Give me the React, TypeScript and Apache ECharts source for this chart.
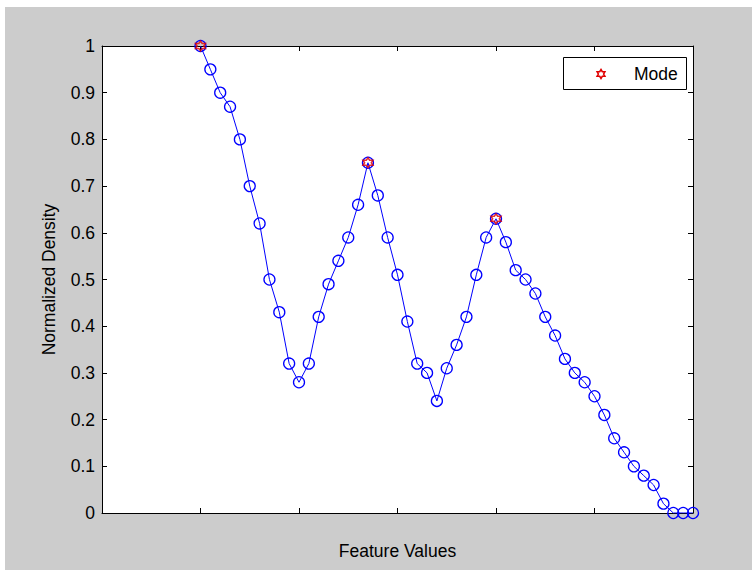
import React, { useEffect, useRef } from "react";
import * as echarts from "echarts";

// Density values at evenly spaced feature positions (index 0..50)
const densityValues: number[] = [
  1.0, 0.95, 0.9, 0.87, 0.8, 0.7, 0.62, 0.5, 0.43, 0.32,
  0.28, 0.32, 0.42, 0.49, 0.54, 0.59, 0.66, 0.75, 0.68, 0.59,
  0.51, 0.41, 0.32, 0.3, 0.24, 0.31, 0.36, 0.42, 0.51, 0.59,
  0.63, 0.58, 0.52, 0.5, 0.47, 0.42, 0.38, 0.33, 0.3, 0.28,
  0.25, 0.21, 0.16, 0.13, 0.1, 0.08, 0.06, 0.02, 0.0, 0.0,
  0.0,
];
const modeIndices: number[] = [0, 17, 30];
const yTicks: string[] = ["0", "0.1", "0.2", "0.3", "0.4", "0.5", "0.6", "0.7", "0.8", "0.9", "1"];
const xLabel = "Feature Values";
const yLabel = "Normalized Density";
const legendLabel = "Mode";

const HEXAGRAM =
  "path://M50 0L64.4 25L93.3 25L78.9 50L93.3 75L64.4 75L50 100L35.6 75L6.7 75L21.1 50L6.7 25L35.6 25Z";

export default function App() {
  const ref = useRef<HTMLDivElement>(null);
  useEffect(() => {
    if (!ref.current) return;
    const chart = echarts.init(ref.current, undefined, { renderer: "svg" });
    const font = "'Liberation Sans', Arial, sans-serif";
    const fs = 17.5;
    const lineData = densityValues.map((v, i) => [i, v]);
    const modeData = modeIndices.map((i) => [i, densityValues[i]]);
    const axisCommon = {
      type: "value" as const,
      splitLine: { show: false },
      axisLine: { show: true, onZero: false, lineStyle: { color: "#000", width: 1 } },
      axisTick: { show: true, inside: true, length: 5, lineStyle: { color: "#000" } },
    };
    chart.setOption({
      animation: false,
      backgroundColor: "#ffffff",
      textStyle: { fontFamily: font },
      graphic: [
        { type: "rect", z: -10, silent: true, shape: { x: 5, y: 7, width: 760, height: 570 }, style: { fill: "#cccccc" } },
        { type: "rect", z: -9, silent: true, shape: { x: 102, y: 46, width: 591, height: 467 }, style: { fill: "#ffffff" } },
        {
          type: "group",
          z: 100,
          children: [
            { type: "rect", shape: { x: 563.5, y: 57.5, width: 123, height: 32 }, style: { fill: "#fff", stroke: "#000", lineWidth: 1 } },
            {
              type: "polygon",
              shape: {
                points: [
                  [601, 69.5], [602.3, 71.75], [604.9, 71.75], [603.6, 74], [604.9, 76.25], [602.3, 76.25],
                  [601, 78.5], [599.7, 76.25], [597.1, 76.25], [598.4, 74], [597.1, 71.75], [599.7, 71.75],
                ],
              },
              style: { fill: "none", stroke: "#e00000", lineWidth: 1.5 },
            },
            { type: "text", style: { x: 634, y: 74, text: legendLabel, fontSize: fs, fontFamily: font, fill: "#000", verticalAlign: "middle", align: "left" } },
          ],
        },
      ],
      grid: { left: 102, top: 46, width: 591, height: 467, show: false },
      xAxis: [
        {
          ...axisCommon,
          position: "bottom",
          min: -10,
          max: 50,
          interval: 10,
          axisLabel: { show: false },
          name: xLabel,
          nameLocation: "middle",
          nameGap: 29,
          nameTextStyle: { fontSize: fs, color: "#000", fontFamily: font },
        },
        { ...axisCommon, position: "top", min: -10, max: 50, interval: 10, axisLabel: { show: false } },
      ],
      yAxis: [
        {
          ...axisCommon,
          position: "left",
          min: 0,
          max: 1,
          interval: 0.1,
          axisLabel: {
            show: true,
            margin: 7,
            fontSize: fs,
            color: "#000",
            fontFamily: font,
            formatter: (v: number) => yTicks[Math.round(v * 10)] ?? "",
          },
          name: yLabel,
          nameLocation: "middle",
          nameGap: 44,
          nameTextStyle: { fontSize: fs, color: "#000", fontFamily: font },
        },
        { ...axisCommon, position: "right", min: 0, max: 1, interval: 0.1, axisLabel: { show: false } },
      ],
      series: [
        {
          type: "line",
          data: lineData,
          xAxisIndex: 0,
          yAxisIndex: 0,
          symbol: "circle",
          symbolSize: 11,
          showAllSymbol: true,
          lineStyle: { color: "#0000ff", width: 1 },
          itemStyle: { color: "rgba(0,0,0,0)", borderColor: "#0000ff", borderWidth: 1.3, opacity: 1 },
          z: 3,
        },
        {
          type: "scatter",
          name: legendLabel,
          data: modeData,
          symbol: HEXAGRAM,
          symbolSize: 10,
          itemStyle: { color: "rgba(0,0,0,0)", borderColor: "#e00000", borderWidth: 1.5 },
          z: 4,
        },
      ],
    });
    return () => chart.dispose();
  }, []);
  return (
    <div
      ref={ref}
      style={{ position: "fixed", left: 0, top: 0, width: 752, height: 570 }}
    />
  );
}
